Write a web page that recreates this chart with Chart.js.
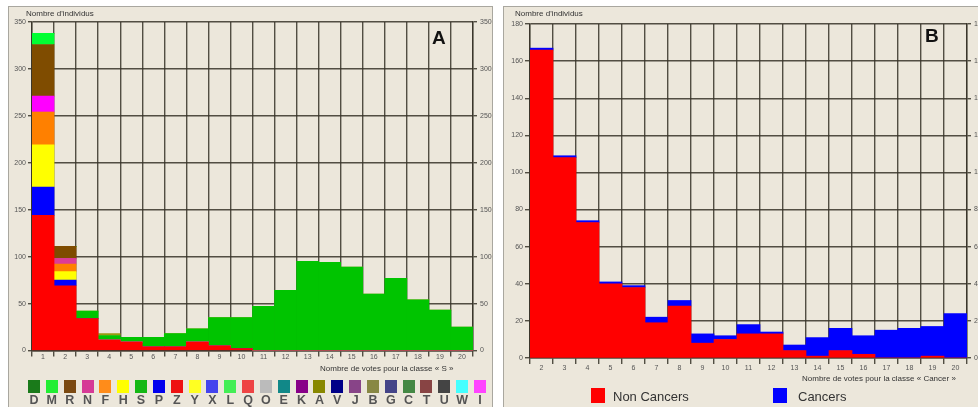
<!DOCTYPE html>
<html>
<head>
<meta charset="utf-8">
<script src="https://cdn.jsdelivr.net/npm/chart.js@4.4.1/dist/chart.umd.min.js"></script>
<style>
  html, body { margin: 0; padding: 0; width: 978px; height: 407px; overflow: hidden; background: #fff; }
  body { position: relative; font-family: "Liberation Sans", Arial, sans-serif; }
  .panel { position: absolute; background: #ece7db; border: 1px solid #a9a79f; box-sizing: border-box; }
  canvas { position: absolute; }
  .txt { position: absolute; white-space: nowrap; color: #333; }
  .small { font-size: 8px; line-height: 10px; }
  .big { font-size: 19px; font-weight: bold; color: #111; line-height: 20px; }
  .lg { position: absolute; width: 18px; text-align: center; }
  .lg span { display: block; width: 12px; height: 13px; margin: 0 auto; }
  .lg b { display: block; font-size: 12.5px; line-height: 13px; color: #555; margin-top: 1px; }
  .sq { position: absolute; width: 14px; height: 15px; }
  .lgB { position: absolute; font-size: 13px; line-height: 15px; color: #333; }
</style>
</head>
<body>
<div class="panel" style="left:8px;top:6px;width:485px;height:410px;"></div>
<div class="panel" style="left:503px;top:6px;width:490px;height:410px;"></div>

<canvas id="chartA" width="484" height="401" style="left:8px;top:6px;"></canvas>
<canvas id="chartB" width="500" height="401" style="left:503px;top:6px;"></canvas>

<div class="txt small" style="left:26px;top:9px;">Nombre d'individus</div>
<div class="txt big" style="left:432px;top:28px;">A</div>
<div class="txt small" style="left:320px;top:364px;">Nombre de votes pour la classe « S »</div>
<div id="legendA"></div>

<div class="txt small" style="left:515px;top:9px;">Nombre d'individus</div>
<div class="txt big" style="left:925px;top:26px;">B</div>
<div class="txt small" style="left:802px;top:374px;">Nombre de votes pour la classe « Cancer »</div>
<div class="sq" style="left:591px;top:388px;background:#ff0000;"></div>
<div class="lgB" style="left:613px;top:389px;">Non Cancers</div>
<div class="sq" style="left:773px;top:388px;background:#0000ff;"></div>
<div class="lgB" style="left:798px;top:389px;">Cancers</div>

<script>
// panel A : votes for class "S", stacked by true class
const votesA = ['1','2','3','4','5','6','7','8','9','10','11','12','13','14','15','16','17','18','19','20'];
const Z = [144, 69, 34, 11, 9, 4, 4, 9, 5, 2, 0, 0, 0, 0, 0, 0, 0, 0, 0, 0];
const P = [30, 6, 0, 0, 0, 0, 0, 0, 0, 0, 0, 0, 0, 0, 0, 0, 0, 0, 0, 0];
const H = [45, 9, 0, 0, 0, 0, 0, 0, 0, 0, 0, 0, 0, 0, 0, 0, 0, 0, 0, 0];
const F = [35, 8, 0, 0, 0, 0, 0, 0, 0, 0, 0, 0, 0, 0, 0, 0, 0, 0, 0, 0];
const N = [0, 6, 0, 0, 0, 0, 0, 0, 0, 0, 0, 0, 0, 0, 0, 0, 0, 0, 0, 0];
const I = [17, 0, 0, 0, 0, 0, 0, 0, 0, 0, 0, 0, 0, 0, 0, 0, 0, 0, 0, 0];
const R = [55, 13, 0, 0, 0, 0, 0, 0, 0, 0, 0, 0, 0, 0, 0, 0, 0, 0, 0, 0];
const M = [12, 0, 0, 0, 0, 0, 0, 0, 0, 0, 0, 0, 0, 0, 0, 0, 0, 0, 0, 0];
const S = [0, 0, 8, 5, 5, 10, 14, 14, 30, 33, 47, 64, 95, 94, 89, 60, 77, 54, 43, 25];
const A = [0, 0, 0, 2, 0, 0, 0, 0, 0, 0, 0, 0, 0, 0, 0, 0, 0, 0, 0, 0];

const legendLetters = ['D','M','R','N','F','H','S','P','Z','Y','X','L','Q','O','E','K','A','V','J','B','G','C','T','U','W','I'];
const legendColors = ['#1a7a1a','#22ee33','#7b4a12','#d63a96','#ff8c1a','#ffff00','#14b814','#0000ee','#ee1111','#ffff22','#4444ee','#44ee55','#ee4444','#bbbbbb','#118888','#880088','#888800','#000088','#884488','#888844','#444488','#448844','#884444','#444444','#44ffff','#ff44ff'];

// panel B : votes for class "Cancer"
const votesB = ['2','3','4','5','6','7','8','9','10','11','12','13','14','15','16','17','18','19','20'];
const nonCancers = [166, 108, 73, 40, 38, 19, 28, 8, 10, 13, 13, 4, 1, 4, 2, 0, 0, 1, 0];
const cancers = [1, 1, 1, 1, 1, 3, 3, 5, 2, 5, 1, 3, 10, 12, 10, 15, 16, 16, 24];

const gridColor = 'rgba(55,50,40,0.85)';
const tickFont = { family: 'Liberation Sans', size: 7 };
const tickColor = '#555';

// html legend for A
let lgHtml = '';
legendLetters.forEach((l, i) => {
  const x = 25 + i * 17.84;
  lgHtml += '<div class="lg" style="left:' + x + 'px;top:380px;"><span style="background:' + legendColors[i] + '"></span><b>' + l + '</b></div>';
});
document.getElementById('legendA').innerHTML = lgHtml;

function makeScales(max, step, leftW, rightW, bottomH, tickLenY, xPad) {
  return {
    x: {
      stacked: true,
      grid: { color: gridColor, lineWidth: 1.4, tickLength: 6, offset: true },
      border: { color: gridColor, width: 1.4 },
      ticks: { font: tickFont, color: tickColor, padding: xPad },
      afterFit: s => { s.height = bottomH; }
    },
    y: {
      stacked: true, min: 0, max: max,
      grid: { color: gridColor, lineWidth: 1.4, tickLength: tickLenY },
      border: { color: gridColor, width: 1.4 },
      ticks: { stepSize: step, font: tickFont, color: tickColor, padding: 2 },
      afterFit: s => { s.width = leftW; }
    },
    y2: {
      position: 'right', min: 0, max: max,
      grid: { drawOnChartArea: false, color: gridColor, lineWidth: 1.4, tickLength: 4 },
      border: { color: gridColor, width: 1.4 },
      ticks: { stepSize: step, font: tickFont, color: tickColor, padding: 3 },
      afterFit: s => { s.width = rightW; }
    }
  };
}

const common = {
  responsive: false,
  animation: false,
  plugins: { legend: { display: false }, tooltip: { enabled: false } },
  datasets: { bar: { categoryPercentage: 1, barPercentage: 1, borderWidth: 0 } }
};

new Chart(document.getElementById('chartA'), {
  type: 'bar',
  data: {
    labels: votesA,
    datasets: [
      { label: 'Z', data: Z, backgroundColor: '#ff0000' },
      { label: 'P', data: P, backgroundColor: '#0000ff' },
      { label: 'H', data: H, backgroundColor: '#ffff00' },
      { label: 'F', data: F, backgroundColor: '#ff8000' },
      { label: 'N', data: N, backgroundColor: '#dd3c96' },
      { label: 'I', data: I, backgroundColor: '#ff00ff' },
      { label: 'R', data: R, backgroundColor: '#7f4c00' },
      { label: 'M', data: M, backgroundColor: '#00ff33' },
      { label: 'S', data: S, backgroundColor: '#00c400' },
      { label: 'A', data: A, backgroundColor: '#9a9a10' }
    ]
  },
  options: Object.assign({}, common, {
    layout: { padding: { top: 16 } },
    scales: makeScales(350, 50, 24, 19, 56.5, 4, -4)
  })
});

new Chart(document.getElementById('chartB'), {
  type: 'bar',
  data: {
    labels: votesB,
    datasets: [
      { label: 'Non Cancers', data: nonCancers, backgroundColor: '#ff0000' },
      { label: 'Cancers', data: cancers, backgroundColor: '#0000ff' }
    ]
  },
  options: Object.assign({}, common, {
    layout: { padding: { top: 18 } },
    scales: makeScales(180, 20, 27, 36, 49, 5, 0)
  })
});
</script>
</body>
</html>
